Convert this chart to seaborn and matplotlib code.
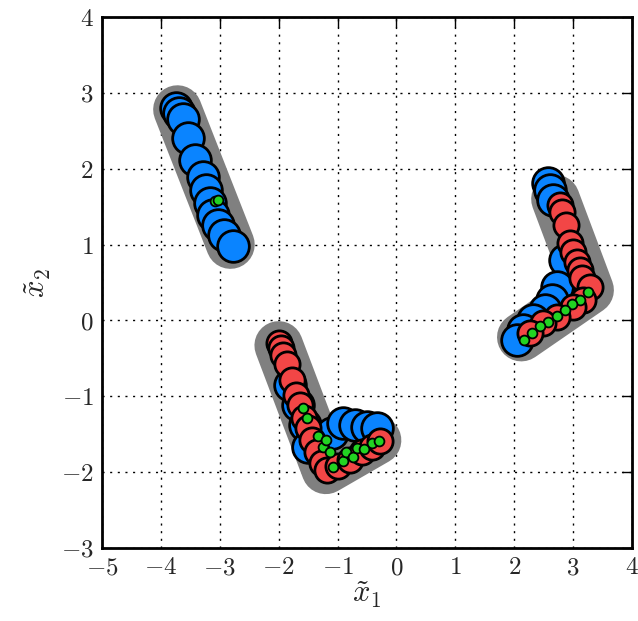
import numpy as np
import pandas as pd
import matplotlib
matplotlib.use("Agg")
import matplotlib.pyplot as plt
import seaborn as sns

# Guide paths drawn underneath each group of points
path_id = [0, 0, 1, 1, 1, 2, 2, 2]
path_x = [-3.72, -2.82, -2.00, -1.20, -0.33, 2.12, 3.28, 2.70]
path_y = [2.78, 1.00, -0.33, -1.97, -1.58, -0.22, 0.40, 1.60]

# Large blue points
blue_x = [-3.74, -3.69, -3.62, -3.54, -3.42, -3.29, -3.23, -3.17, -3.12, -3.03, -2.93, -2.78,
          -1.81, -1.67, -1.55, -1.50, -1.10, -0.91, -0.70, -0.50, -0.33,
          2.57, 2.61, 2.66, 2.86, 2.72, 2.64, 2.52, 2.32, 2.15, 2.05]
blue_y = [2.80, 2.74, 2.66, 2.41, 2.12, 1.89, 1.72, 1.55, 1.39, 1.26, 1.13, 0.98,
          -0.85, -1.11, -1.38, -1.67, -1.48, -1.35, -1.38, -1.40, -1.42,
          1.81, 1.72, 1.59, 0.80, 0.44, 0.27, 0.14, 0.01, -0.12, -0.26]

# Medium red points
red_x = [-2.00, -1.96, -1.93, -1.86, -1.77, -1.71, -1.64, -1.57, -1.50, -1.43, -1.35, -1.26, -1.18,
         -0.99, -0.79, -0.59, -0.42, -0.28,
         2.78, 2.81, 2.88, 2.95, 3.00, 3.06, 3.12, 3.15, 3.29, 3.17, 3.00, 2.72, 2.49, 2.27]
red_y = [-0.30, -0.36, -0.45, -0.58, -0.78, -0.98, -1.11, -1.28, -1.42, -1.57, -1.74, -1.88, -1.97,
         -1.92, -1.84, -1.74, -1.67, -1.59,
         1.52, 1.43, 1.26, 1.02, 0.90, 0.77, 0.67, 0.56, 0.44, 0.27, 0.18, 0.05, -0.03, -0.16]

# Small green points
green_x = [-3.08, -3.03,
           -1.59, -1.52, -1.33, -1.25, -1.20, -1.13, -1.08, -0.91, -0.86, -0.74, -0.67, -0.55, -0.42, -0.30,
           3.25, 3.12, 2.98, 2.86, 2.72, 2.57, 2.44, 2.30, 2.16]
green_y = [1.58, 1.59,
           -1.16, -1.28, -1.53, -1.67, -1.57, -1.73, -1.93, -1.85, -1.74, -1.80, -1.68, -1.70, -1.61, -1.59,
           0.38, 0.27, 0.21, 0.14, 0.06, -0.02, -0.08, -0.16, -0.26]

x_ticks = [-5, -4, -3, -2, -1, 0, 1, 2, 3, 4]
y_ticks = [-3, -2, -1, 0, 1, 2, 3, 4]

sns.set_style("white")
plt.rcParams["mathtext.fontset"] = "cm"
plt.rcParams["font.family"] = ["DejaVu Serif"]

paths = pd.DataFrame({"path": path_id, "x": path_x, "y": path_y})
points = pd.concat([
    pd.DataFrame({"x": blue_x, "y": blue_y, "kind": "blue"}),
    pd.DataFrame({"x": red_x, "y": red_y, "kind": "red"}),
    pd.DataFrame({"x": green_x, "y": green_y, "kind": "green"}),
], ignore_index=True)

fig = plt.figure(figsize=(6.38, 6.21), dpi=100)
ax = fig.add_axes([0.160, 0.1176, 0.8306, 0.855])

sns.lineplot(data=paths, x="x", y="y", units="path", estimator=None, sort=False,
             color="#808080", linewidth=35, solid_capstyle="round",
             solid_joinstyle="round", ax=ax, zorder=1)

palette = {"blue": "#0a84ff", "red": "#f24646", "green": "#22d322"}
sizes = {"blue": 520, "red": 330, "green": 50}
for kind in ["blue", "red", "green"]:
    sub = points[points["kind"] == kind]
    sns.scatterplot(data=sub, x="x", y="y", color=palette[kind], s=sizes[kind],
                    edgecolor="black", linewidth=2.0 if kind != "green" else 1.3,
                    ax=ax, zorder=2, legend=False)

ax.set_xlim(-5, 4)
ax.set_ylim(-3, 4)
ax.set_xticks(x_ticks)
ax.set_yticks(y_ticks)
ax.set_xticklabels([f"${v}$" for v in x_ticks], fontsize=18)
ax.set_yticklabels([f"${v}$" for v in y_ticks], fontsize=18)
ax.tick_params(direction="in", length=7, width=1, top=True, right=True,
               color="black", pad=6)
ax.grid(True, linestyle=(0, (1.5, 4)), color="black", linewidth=1)
ax.set_axisbelow(True)
for sp in ax.spines.values():
    sp.set_color("black")
    sp.set_linewidth(2)

ax.set_xlabel(r"$\tilde{x}_1$", fontsize=22, labelpad=0)
ax.set_ylabel(r"$\tilde{x}_2$", fontsize=22, labelpad=6)

fig.savefig("out.png", dpi=100)
